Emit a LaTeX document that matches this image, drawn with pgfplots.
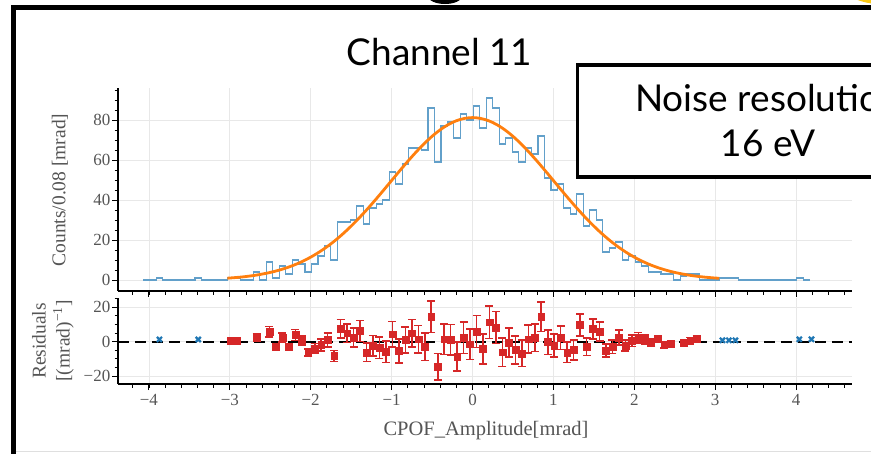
\documentclass[border=0pt]{standalone}
\usepackage{fontspec}
\setmainfont{Liberation Serif}
\newfontfamily\latofont{Lato}
\usepackage{pgfplots}
\pgfplotsset{compat=1.18}
\definecolor{histblue}{RGB}{98,160,202}
\definecolor{fitorange}{RGB}{255,127,14}
\definecolor{resred}{RGB}{214,39,40}
\definecolor{resblue}{RGB}{31,119,180}
\definecolor{labgray}{RGB}{85,85,85}
\definecolor{gridgray}{RGB}{232,232,232}
\definecolor{sunyellow}{RGB}{250,200,20}
\pgfplotsset{
  common/.style={
    scale only axis, width=734pt, anchor=south west,
    xmin=-4.382, xmax=4.691,
    axis lines*=left,
    axis line style={-, black, line width=1.1pt},
    xtick={-4,-3,-2,-1,0,1,2,3,4},
    minor xtick={-4.2,-4,...,4.6},
    tick align=outside,
    major tick length=6pt, minor tick length=3.5pt,
    tick style={black, line width=0.9pt},
    minor tick style={black, line width=0.8pt},
    grid=major, major grid style={gridgray, line width=0.8pt},
    /pgf/number format/assume math mode=true,
    yticklabel style={font=\fontsize{17}{17}\selectfont, text=labgray, inner sep=1.5pt},
    xticklabel style={font=\fontsize{17}{17}\selectfont, text=labgray, yshift=-1pt},
  }
}
\begin{document}
\begin{tikzpicture}
\useasboundingbox (0pt,0pt) rectangle (871pt,-453pt);
\begin{scope}
\clip (0pt,0pt) rectangle (871pt,-453pt);
% slide decorations
\fill (445pt,4pt) ellipse (17pt and 8pt);
\fill[sunyellow] (880pt,60pt) circle (64pt);
\draw[gray!25, line width=1pt] (16pt,-451.5pt) -- (871pt,-451.5pt);
\draw[line width=5pt] (13.2pt,-480pt) -- (13.2pt,-7pt) -- (900pt,-7pt);

% main histogram axis
\begin{axis}[common,
  at={(118pt,-291pt)}, height=203pt,
  ymin=-5.5, ymax=96,
  xticklabels={},
  ytick={0,20,40,60,80},
  minor ytick={0,5,...,95},
]
\addplot[const plot, histblue, line width=1.1pt] coordinates {
(-4.07,0) (-3.99,0) (-3.91,1) (-3.83,0) (-3.75,0) (-3.67,0) (-3.59,0) (-3.51,0)
(-3.43,1) (-3.35,0) (-3.27,0) (-3.19,0) (-3.11,0) (-3.03,1) (-2.95,1) (-2.87,0)
(-2.79,0) (-2.71,4) (-2.63,0) (-2.55,9) (-2.47,1) (-2.39,7) (-2.31,3) (-2.23,10)
(-2.15,8) (-2.07,4) (-1.99,8) (-1.91,12) (-1.83,17) (-1.75,10) (-1.67,29) (-1.59,29)
(-1.51,30) (-1.43,37) (-1.35,28) (-1.27,36) (-1.19,38) (-1.11,40) (-1.03,54) (-0.95,48)
(-0.87,58) (-0.79,66) (-0.71,66) (-0.63,65) (-0.55,86) (-0.47,59) (-0.39,77) (-0.31,79)
(-0.23,71) (-0.15,83) (-0.07,80) (0.01,87) (0.09,76) (0.17,91) (0.25,86) (0.33,68)
(0.41,71) (0.49,64) (0.57,59) (0.65,66) (0.73,63) (0.81,72) (0.89,51) (0.97,45)
(1.05,48) (1.13,36) (1.21,33) (1.29,43) (1.37,27) (1.45,35) (1.53,30) (1.61,14)
(1.69,16) (1.77,19) (1.85,10) (1.93,12) (2.01,9) (2.09,7) (2.17,4) (2.25,4)
(2.33,3) (2.41,3) (2.49,0) (2.57,2) (2.65,3) (2.73,3) (2.81,0) (2.89,0)
(2.97,0) (3.05,1) (3.13,1) (3.21,1) (3.29,0) (3.37,0) (3.45,0) (3.53,0)
(3.61,0) (3.69,0) (3.77,0) (3.85,0) (3.93,0) (4.01,1) (4.09,0) (4.17,0)
};
\addplot[fitorange, line width=2.8pt, smooth] coordinates {
(-3.03,0.91) (-2.9,1.32) (-2.8,1.74) (-2.7,2.28) (-2.6,2.96) (-2.5,3.79) (-2.4,4.82)
(-2.3,6.07) (-2.2,7.57) (-2.1,9.35) (-2.0,11.43) (-1.9,13.84) (-1.8,16.59) (-1.7,19.69)
(-1.6,23.15) (-1.5,26.95) (-1.4,31.07) (-1.3,35.46) (-1.2,40.09) (-1.1,44.87) (-1.0,49.74)
(-0.9,54.59) (-0.8,59.34) (-0.7,63.86) (-0.6,68.07) (-0.5,71.84) (-0.4,75.08) (-0.3,77.70)
(-0.2,79.62) (-0.1,80.80) (0,81.20) (0.1,80.80) (0.2,79.62) (0.3,77.70) (0.4,75.08)
(0.5,71.84) (0.6,68.07) (0.7,63.86) (0.8,59.34) (0.9,54.59) (1.0,49.74) (1.1,44.87)
(1.2,40.09) (1.3,35.46) (1.4,31.07) (1.5,26.95) (1.6,23.15) (1.7,19.69) (1.8,16.59)
(1.9,13.84) (2.0,11.43) (2.1,9.35) (2.2,7.57) (2.3,6.07) (2.4,4.82) (2.5,3.79)
(2.6,2.96) (2.7,2.28) (2.8,1.74) (2.9,1.32) (3.0,0.99) (3.05,0.85)
};
\end{axis}

% residual axis
\begin{axis}[common,
  at={(118pt,-384pt)}, height=86pt,
  ymin=-24.6, ymax=25.4,
  ytick={-20,0,20}, yticklabels={−20,0,20},
  minor ytick={-20,-15,...,25},
  xticklabels={−4,−3,−2,−1,0,1,2,3,4},
]
\addplot[black, line width=1.8pt, dash pattern=on 11pt off 6pt] coordinates {(-4.382,0) (4.691,0)};
\addplot[only marks, mark=square*, mark size=3.4pt, color=resred,
  error bars/.cd, y dir=both, y explicit,
  error bar style={line width=1.6pt, resred},
  error mark options={rotate=90, mark size=4pt, line width=1.6pt, resred}]
  table[x=x, y=r, y error=e] {
x r e
-2.99 0.4 1
-2.91 0.4 1
-2.67 2.3 2
-2.51 5.8 3
-2.43 -2.9 1
-2.35 2.3 2.65
-2.27 -2.9 1.73
-2.19 3.9 3.16
-2.11 0.6 2.83
-2.03 -6.2 2
-1.95 -3.9 2.83
-1.87 -1.9 3.46
-1.79 1.0 4.12
-1.71 -8.3 3.16
-1.63 7.4 5.39
-1.55 4.9 5.39
-1.47 2.5 5.48
-1.39 6.2 6.08
-1.31 -6.2 5.29
-1.23 -2.3 6
-1.15 -3.5 6.16
-1.07 -5.8 6.32
-0.99 4.3 7.35
-0.91 -5.4 6.93
-0.83 1.0 7.62
-0.75 4.9 8.12
-0.67 1.4 8.12
-0.59 -2.9 8.06
-0.51 14.5 9.27
-0.43 -14.5 7.68
-0.35 1.4 8.77
-0.27 1.0 8.89
-0.19 -8.7 8.43
-0.11 2.3 9.11
-0.03 -1.4 8.94
0.05 6.0 9.33
0.13 -4.2 8.72
0.21 11.3 9.54
0.29 8.2 9.27
0.37 -6.1 8.25
0.45 -0.6 8.43
0.53 -4.8 8
0.61 -6.8 7.68
0.69 1.5 8.12
0.77 2.3 7.94
0.85 14.5 8.49
0.93 -0.2 7.14
1.01 -2.2 6.71
1.09 2.3 6.93
1.17 -6.2 6
1.25 -4.8 5.74
1.33 9.7 6.56
1.41 -2.9 5.2
1.49 7.4 5.92
1.57 5.8 5.48
1.65 -5.2 3.74
1.73 -2.9 4
1.81 2.3 4.36
1.89 -2.2 3.16
1.97 0.6 3.46
2.05 2.3 3
2.13 1.3 2.65
2.21 -0.4 2
2.29 1.5 2
2.37 -2.0 1.73
2.45 -1.0 1.73
2.61 -0.6 1.41
2.69 0.6 1.73
2.77 1.5 1.73
};
\addplot[only marks, mark=x, mark size=3.6pt, color=resblue, mark options={line width=2.2pt}]
  coordinates {(-3.87,1.3) (-3.39,1.3) (3.09,0.8) (3.17,0.8) (3.25,0.8) (4.04,1.4) (4.19,1.4)};
\end{axis}

% axis labels
\node[rotate=90, font=\fontsize{19.5}{20}\selectfont, text=labgray] at (60pt,-190pt) {Counts/0.08 [mrad]};
\node[rotate=90, align=center, font=\fontsize{19.5}{24}\selectfont, text=labgray] at (53pt,-341pt) {Residuals\\ {[}(mrad)\textsuperscript{−1}{]}};
\node[font=\fontsize{20.5}{21}\selectfont, text=labgray] at (486pt,-431pt) {CPOF\_Amplitude[mrad]};

% title
\node[font=\latofont\fontsize{37}{40}\selectfont, anchor=base] at (439.5pt,-65.5pt) {Channel 11};

% box
\draw[line width=3.5pt, fill=white] (577.5pt,-65pt) rectangle (990pt,-177pt);
\node[font=\latofont\fontsize{37}{44}\selectfont, anchor=base] at (768pt,-111.7pt) {Noise resolution};
\node[font=\latofont\fontsize{37}{44}\selectfont, anchor=base] at (768pt,-156pt) {16 eV};
\end{scope}
\end{tikzpicture}
\end{document}
